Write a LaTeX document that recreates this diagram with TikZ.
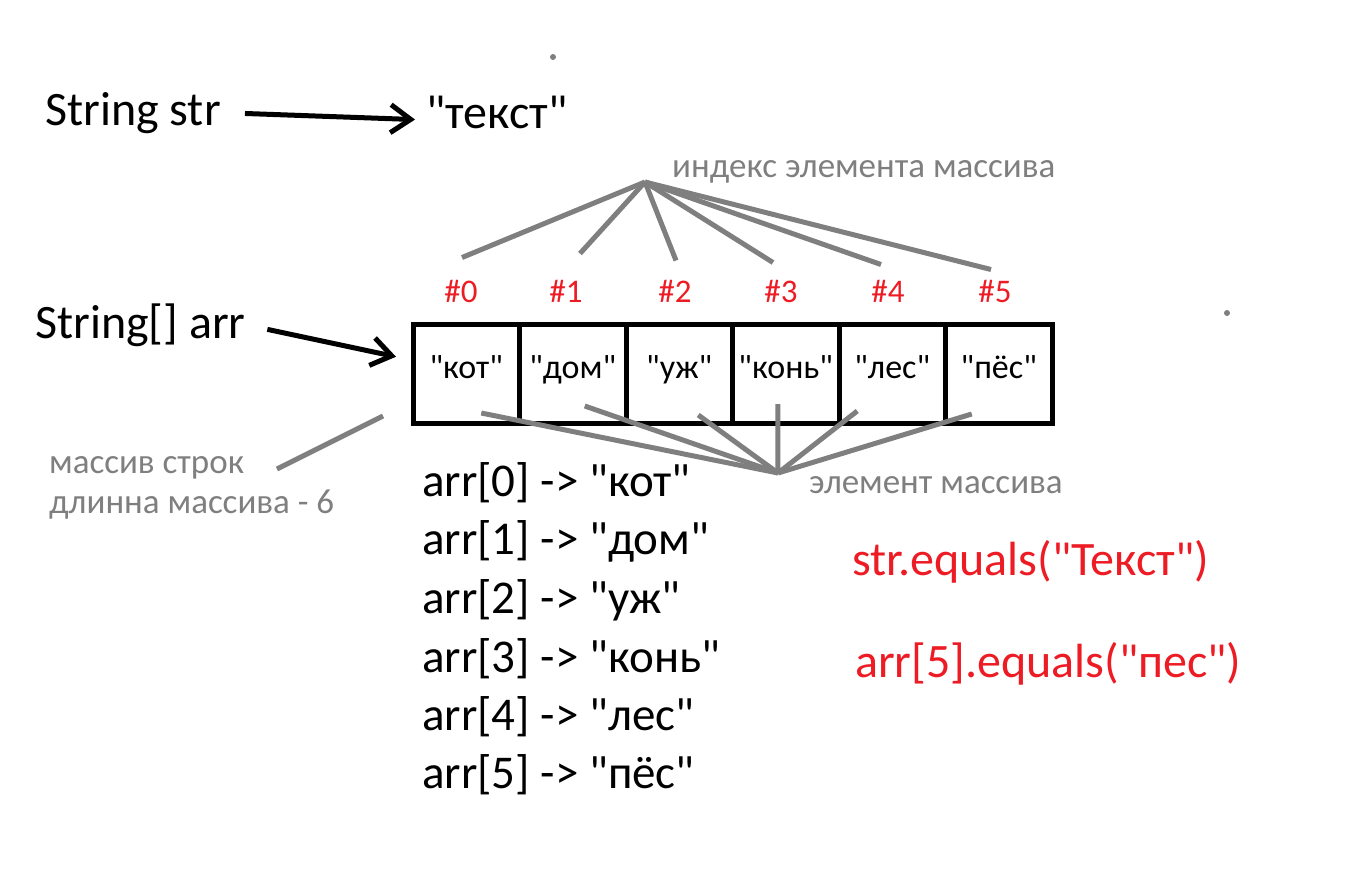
\documentclass[tikz,border=0pt]{standalone}
\usepackage{fontspec}
\setmainfont{Carlito}[Ligatures=TeXOff]
\usetikzlibrary{positioning,arrows.meta}
\definecolor{markgray}{RGB}{127,127,127}
\definecolor{markred}{RGB}{237,28,36}
\tikzstyle{bigtext}=[font=\fontsize{48}{56}\selectfont, inner sep=0pt, anchor=base west]
\tikzstyle{listtext}=[font=\fontsize{47}{56}\selectfont, inner sep=0pt, anchor=base west]
\tikzstyle{redtext}=[font=\fontsize{48}{56}\selectfont, text=markred, inner sep=0pt, anchor=base west]
\tikzstyle{note}=[font=\fontsize{35}{40}\selectfont, text=markgray, inner sep=0pt, anchor=base west]
\tikzstyle{idx}=[font=\fontsize{33}{40}\selectfont, text=markred, inner sep=0pt, anchor=base]
\tikzstyle{cell}=[draw, line width=5pt, minimum width=106.5pt, minimum height=98.5pt, outer sep=0pt, inner sep=0pt, text height=22pt, text depth=13.5pt, font=\fontsize{34}{40}\selectfont]
\tikzstyle{ptr}=[line width=5pt, -{Straight Barb[length=20pt,width=28pt]}]
\tikzstyle{pointer}=[line width=5pt, markgray]

\begin{document}
\begin{tikzpicture}[x=1pt, y=-1pt]
\useasboundingbox (0,0) rectangle (1368,892);
\fill[markgray] (553,57) circle (3);
\fill[markgray] (1227,313) circle (3);

\node[bigtext] at (45, 125) (strvar) {String str};
\node[bigtext] at (426, 128) (strval) {"текст"};
\node[bigtext] at (35, 338) (arrvar) {String[] arr};
\draw[ptr, shorten <=24pt, shorten >=11pt] (strvar.east) -- ([yshift=-8pt]strval.west);

\node[cell] at (466.25, 373.75) (c0) {"кот"};
\node[cell, right=0pt of c0] (c1) {"дом"};
\node[cell, right=0pt of c1] (c2) {"уж"};
\node[cell, right=0pt of c2] (c3) {"конь"};
\node[cell, right=0pt of c3] (c4) {"лес"};
\node[cell, right=0pt of c4] (c5) {"пёс"};
\draw[ptr, shorten <=22pt] (arrvar.east) -- ([xshift=-17pt, yshift=17pt]c0.west);

\node[idx] at (461, 302) (i0) {\#0};
\node[idx] at (566, 302) (i1) {\#1};
\node[idx] at (675, 302) (i2) {\#2};
\node[idx] at (781, 302) (i3) {\#3};
\node[idx] at (888, 302) (i4) {\#4};
\node[idx] at (995, 302) (i5) {\#5};

\node[note] at (672, 177) (idxnote) {индекс элемента массива};
\coordinate (idxpt) at (645, 182);
\draw[pointer] (idxpt) -- ([xshift=1pt, yshift=22pt]i0.north);
\draw[pointer] (idxpt) -- ([xshift=14pt, yshift=26pt]i1.north);
\draw[pointer] (idxpt) -- ([xshift=1pt, yshift=19pt]i2.north);
\draw[pointer] (idxpt) -- ([xshift=-8pt, yshift=17pt]i3.north);
\draw[pointer] (idxpt) -- ([xshift=-7pt, yshift=15pt]i4.north);
\draw[pointer] (idxpt) -- ([xshift=-4pt, yshift=10pt]i5.north);

\node[note] at (809, 493) (elemnote) {элемент массива};
\coordinate (elempt) at (778, 473);
\draw[pointer] ([xshift=15pt, yshift=10pt]c0.south) -- (elempt);
\draw[pointer] ([xshift=12pt, yshift=17pt]c1.south) -- (elempt);
\draw[pointer] ([xshift=19pt, yshift=8pt]c2.south) -- (elempt);
\draw[pointer] ([xshift=-8pt, yshift=19pt]c3.south) -- (elempt);
\draw[pointer] ([xshift=-35pt, yshift=12pt]c4.south) -- (elempt);
\draw[pointer] ([xshift=-27pt, yshift=9pt]c5.south) -- (elempt);

\node[note, align=left] at (49, 513) (arrnote) {массив строк\\длинна массива - 6};
\coordinate (notetail) at (277, 469);
\draw[pointer] (notetail) -- ([xshift=-30pt, yshift=7pt]c0.south west);

\node[listtext] at (422, 496) (a0) {arr[0] -> "кот"};
\node[listtext] at (422, 554) (a1) {arr[1] -> "дом"};
\node[listtext] at (422, 613) (a2) {arr[2] -> "уж"};
\node[listtext] at (422, 672) (a3) {arr[3] -> "конь"};
\node[listtext] at (422, 730) (a4) {arr[4] -> "лес"};
\node[listtext] at (422, 788) (a5) {arr[5] -> "пёс"};

\node[redtext] at (852, 575) (eq1) {str.equals("Текст")};
\node[redtext] at (855, 677) (eq2) {arr[5].equals("пес")};

\end{tikzpicture}
\end{document}
